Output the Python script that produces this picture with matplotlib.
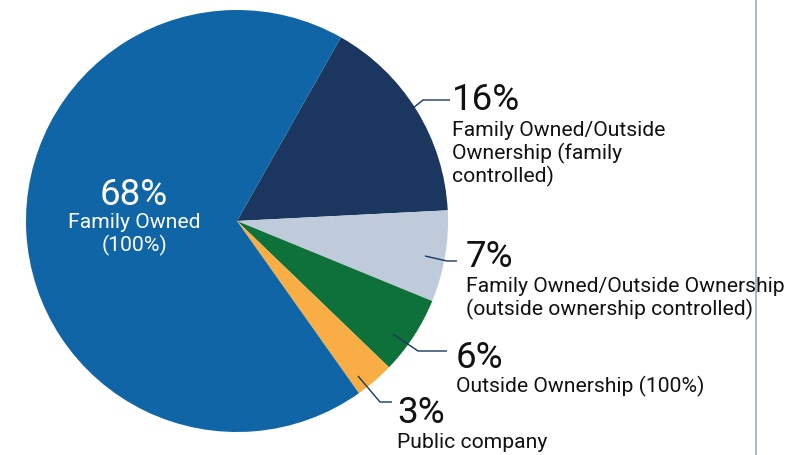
import matplotlib
matplotlib.use("Agg")
import matplotlib.pyplot as plt

# Data
categories = ["Family Owned/Outside Ownership (family controlled)",
              "Family Owned/Outside Ownership (outside ownership controlled)",
              "Outside Ownership (100%)",
              "Public company",
              "Family Owned (100%)"]
values = [16, 7, 6, 3, 68]
pct_labels = ["16%", "7%", "6%", "3%", "68%"]
desc_labels = [["Family Owned/Outside", "Ownership (family", "controlled)"],
               ["Family Owned/Outside Ownership", "(outside ownership controlled)"],
               ["Outside Ownership (100%)"],
               ["Public company"],
               ["Family Owned", "(100%)"]]
colors = ["#1B3760", "#BFCBDA", "#0E7139", "#F9AD45", "#1065A6"]

W, H = 791, 456
fig = plt.figure(figsize=(W / 100, H / 100), dpi=100)
ax = fig.add_axes([0, 0, 1, 1])
plt.rcParams['font.family'] = ['Roboto', 'DejaVu Sans']

def Y(y):
    return H - y

ax.pie(values, colors=colors, startangle=60.5, counterclock=False,
       center=(237, Y(222)), radius=211, wedgeprops=dict(linewidth=0))
ax.set_xlim(0, W)
ax.set_ylim(0, H)
ax.set_aspect('equal')
ax.axis('off')

line_c = "#1B3760"
big = 26.5
small = 15.2
lsp = 23  # px between baselines

# leader lines (pixel coords)
leaders = [
    [(397, 122), (423, 101), (450, 101)],
    [(425, 257), (447, 262), (457, 262)],
    [(393, 335), (418, 352), (447, 352)],
    [(358, 377), (380, 403), (392, 403)],
]
for pts in leaders:
    ax.plot([p[0] for p in pts], [Y(p[1]) for p in pts], color=line_c, lw=1.0,
            solid_capstyle='butt')

# labels: (x, pct baseline, desc first baseline)
pos = [(452, 110, 136), (466, 267, 292), (456, 368, 392), (397, 423, 448)]
for i, (x, yb, yd) in enumerate(pos):
    ax.text(x, Y(yb), pct_labels[i], fontsize=big,
            color="#111111", va='baseline', ha='left')
    for j, line in enumerate(desc_labels[i]):
        ax.text(x, Y(yd + j * lsp), line, fontsize=small, color="#111111",
                va='baseline', ha='left')

# inside label
ax.text(134, Y(205), pct_labels[4], fontsize=big,
        color="white", va='baseline', ha='center')
for j, line in enumerate(desc_labels[4]):
    ax.text(134, Y(228 + j * lsp), line, fontsize=small, color="white",
            va='baseline', ha='center')

# right vertical rule
ax.plot([756, 756], [0, H], color="#9BB3CC", lw=1.3)

fig.savefig("out.png", dpi=100)
